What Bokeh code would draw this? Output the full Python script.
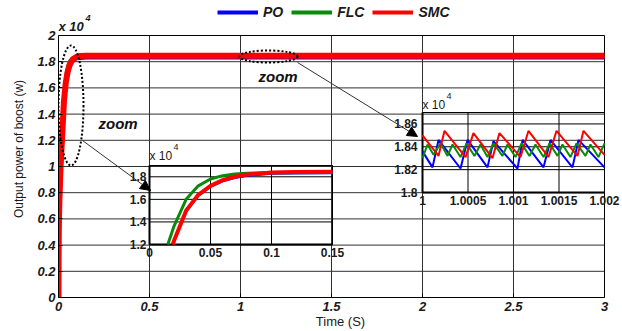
from bokeh.plotting import figure
from bokeh.models import (Range1d, FixedTicker, PrintfTickFormatter, Legend, LegendItem,
                          Arrow, NormalHead, Label, LabelSet, ColumnDataSource)
from bokeh.embed import file_html
from bokeh.resources import INLINE
from bokeh.core.properties import value

FONT = "Liberation Sans"

# ---------------- data (values in x 10^4 W) ----------------
t_po = [0, 0.005, 0.01, 0.015, 0.02, 0.03, 0.04, 0.05, 0.06, 0.07, 0.08, 0.1, 0.12, 0.15, 3.0]
po = [0, 0.55, 0.85, 1.05, 1.22, 1.49, 1.63, 1.71, 1.76, 1.79, 1.81, 1.826, 1.829, 1.832, 1.832]

t_flc = [0, 0.003, 0.006, 0.01, 0.015, 0.02, 0.03, 0.04, 0.05, 0.06, 0.07, 0.08, 0.1, 0.15, 3.0]
flc = [0, 0.85, 0.95, 1.05, 1.2, 1.36, 1.60, 1.72, 1.78, 1.81, 1.825, 1.832, 1.836, 1.837, 1.837]

t_smc = [0, 0.001, 0.005, 0.01, 0.015, 0.019, 0.02, 0.03, 0.04, 0.05, 0.06, 0.07, 0.08, 0.1, 0.12, 0.15, 3.0]
smc = [0, 0.5, 0.75, 0.95, 1.1, 1.2, 1.23, 1.50, 1.64, 1.72, 1.77, 1.80, 1.82, 1.838, 1.843, 1.845, 1.845]

# ripple (zoom 1 .. 1.002 s)
t_rip_smc = [1.0, 1.000176, 1.000242, 1.000473, 1.000560, 1.000769, 1.000846, 1.001077,
             1.001165, 1.001385, 1.001473, 1.001703, 1.001769, 1.002]
rip_smc = [1.850, 1.832, 1.854, 1.831, 1.852, 1.830, 1.852, 1.831, 1.854, 1.831, 1.854,
           1.832, 1.854, 1.833]

t_rip_po = [1.0, 1.00011, 1.000176, 1.000418, 1.000495, 1.000714, 1.00078, 1.001044, 1.0011,
            1.00133, 1.001407, 1.001648, 1.001714, 1.002]
rip_po = [1.836, 1.822, 1.846, 1.821, 1.846, 1.822, 1.845, 1.821, 1.846, 1.822, 1.846,
          1.822, 1.846, 1.822]

t_rip_flc = [1.0, 1.000055, 1.000121, 1.000198, 1.000275, 1.00033, 1.000418, 1.000484,
             1.000571, 1.000637, 1.000714, 1.00078, 1.000879, 1.000934, 1.001022, 1.001088,
             1.001176, 1.001242, 1.00133, 1.001396, 1.001484, 1.001538, 1.001626, 1.001692,
             1.001791, 1.001846, 1.001934, 1.002]
rip_flc = [1.830, 1.842, 1.833, 1.843, 1.832, 1.842, 1.831, 1.843, 1.832, 1.842, 1.831,
           1.843, 1.832, 1.842, 1.831, 1.843, 1.832, 1.842, 1.831, 1.843, 1.832, 1.842,
           1.831, 1.843, 1.832, 1.842, 1.831, 1.843]

series_names = ["PO", "FLC", "SMC"]
x_ticks = [0, 0.5, 1, 1.5, 2, 2.5, 3]
y_ticks = [0, 0.2, 0.4, 0.6, 0.8, 1, 1.2, 1.4, 1.6, 1.8, 2]
x_lim = [0, 3]
y_lim = [0, 2]

z1_x_ticks = [0, 0.05, 0.1, 0.15]
z1_x_labels = ["0", "0.05", "0.1", "0.15"]
z1_y_ticks = [1.2, 1.4, 1.6, 1.8]
z1_y_labels = ["1.2", "1.4", "1.6", "1.8"]
z1_xlim = [0, 0.15]
z1_ylim = [1.2, 1.9]

z2_x_ticks = [1, 1.0005, 1.001, 1.0015, 1.002]
z2_x_labels = ["1", "1.0005", "1.001", "1.0015", "1.002"]
z2_y_ticks = [1.8, 1.82, 1.84, 1.86]
z2_y_labels = ["1.8", "1.82", "1.84", "1.86"]
z2_xlim = [1, 1.002]
z2_ylim = [1.8, 1.87]

# ---------------- layout constants (pixels, whole window) ----------------
W, H = 622, 331
FL, FR, FT, FB = 58, 604, 35, 297     # axes box of the main plot
CANVAS_R = 622                        # drawing frame reaches the right edge

BLUE, GREEN, RED = "#0000ff", "#0a8a0a", "#ff0000"
GRID = "#303030"
TXT = "#1a1a1a"


def mx(px):
    return (px - FL) / (FR - FL) * (x_lim[1] - x_lim[0]) + x_lim[0]


def my(py):
    return (FB - py) / (FB - FT) * (y_lim[1] - y_lim[0]) + y_lim[0]


def extra(d0, d1, p0, p1, f0, f1):
    k = (d1 - d0) / (p1 - p0)
    return Range1d(start=d0 + (f0 - p0) * k, end=d0 + (f1 - p0) * k)


# frame spans x 58..622 and y 0..297, so texts above the axes box stay inside it
p = figure(width=W, height=H, x_range=Range1d(x_lim[0], mx(CANVAS_R)),
           y_range=Range1d(y_lim[0], my(0)),
           output_backend="svg", toolbar_location=None,
           min_border_left=FL, min_border_right=W - CANVAS_R, min_border_top=0,
           min_border_bottom=H - FB)
p.background_fill_color = "white"
p.border_fill_color = "white"
p.outline_line_color = None
p.grid.visible = False

# inset ranges: inset 1 box px x 149..332, y 244..165 ; inset 2 box px x 422..604, y 192..112
p.extra_x_ranges = {"z1": extra(z1_xlim[0], z1_xlim[1], 149, 332, FL, CANVAS_R),
                    "z2": extra(z2_xlim[0], z2_xlim[1], 422, 604, FL, CANVAS_R)}
p.extra_y_ranges = {"z1": extra(z1_ylim[0], z1_ylim[1], 244, 165, FB, 0),
                    "z2": extra(z2_ylim[0], z2_ylim[1], 192, 112, FB, 0),
                    "off": Range1d(100, 101)}

for ax in (p.xaxis[0], p.yaxis[0]):
    ax.major_label_text_font = FONT
    ax.major_label_text_font_style = "bold italic"
    ax.major_label_text_font_size = "13px"
    ax.major_label_text_color = TXT
    ax.axis_label_text_font = FONT
    ax.axis_label_text_font_style = "normal"
    ax.axis_label_text_color = TXT
    ax.major_tick_in = 4
    ax.major_tick_out = 0
    ax.minor_tick_line_color = None
    ax.axis_line_color = "black"
    ax.formatter = PrintfTickFormatter(format="%g")
p.xaxis.bounds = tuple(x_lim)
p.yaxis.bounds = tuple(y_lim)
p.xaxis.ticker = FixedTicker(ticks=x_ticks)
p.yaxis.ticker = FixedTicker(ticks=y_ticks)
p.xaxis.axis_label = "Time (S)"
p.xaxis.axis_label_text_font_size = "13px"
p.xaxis.major_label_standoff = 4
p.xaxis.axis_label_standoff = 0
p.yaxis.axis_label = "Output power of boost (w)"
p.yaxis.axis_label_text_font_size = "12px"
p.yaxis.major_label_standoff = 3
p.yaxis.axis_label_standoff = 8

# main grid and box (grid lines at the ticks, box at the limits)
gx = [t for t in x_ticks if x_lim[0] < t < x_lim[1]]
gy = [t for t in y_ticks if y_lim[0] < t < y_lim[1]]
p.segment(x0=gx, x1=gx, y0=[y_lim[0]] * len(gx), y1=[y_lim[1]] * len(gx),
          line_color=GRID, line_width=1)
p.segment(x0=[x_lim[0]] * len(gy), x1=[x_lim[1]] * len(gy), y0=gy, y1=gy,
          line_color=GRID, line_width=1)
p.segment(x0=[x_lim[0], x_lim[1]], x1=[x_lim[1], x_lim[1]], y0=[y_lim[1], y_lim[0]],
          y1=[y_lim[1], y_lim[1]], line_color="black", line_width=1)

# main curves
p.line(t_po, po, line_color=BLUE, line_width=4)
p.line(t_flc, flc, line_color=GREEN, line_width=2)
p.line(t_smc, smc, line_color=RED, line_width=6)


def inset_frame(name, xt, yt, xlim, ylim):
    p.segment(x0=[xlim[0]] * len(yt), x1=[xlim[1]] * len(yt), y0=yt, y1=yt,
              x_range_name=name, y_range_name=name, line_color="black", line_width=1)
    p.segment(x0=xt, x1=xt, y0=[ylim[0]] * len(xt), y1=[ylim[1]] * len(xt),
              x_range_name=name, y_range_name=name, line_color="black", line_width=1)
    p.segment(x0=[xlim[0], xlim[0]], x1=[xlim[1], xlim[1]], y0=[ylim[0], ylim[1]],
              y1=[ylim[0], ylim[1]], x_range_name=name, y_range_name=name,
              line_color="black", line_width=[2, 1])
    p.segment(x0=[xlim[0], xlim[1]], x1=[xlim[0], xlim[1]], y0=[ylim[0], ylim[0]],
              y1=[ylim[1], ylim[1]], x_range_name=name, y_range_name=name,
              line_color="black", line_width=[2, 1])


def clip(ts, vs, xlim, ylim):
    pts = [(a, b) for a, b in zip(ts, vs) if xlim[0] <= a <= xlim[1] and b >= ylim[0]]
    return [a for a, _ in pts], [b for _, b in pts]


# inset 1 (start-up)
inset_frame("z1", z1_x_ticks, z1_y_ticks, z1_xlim, z1_ylim)
for ts, vs, col, lw in ((t_po, po, BLUE, 2), (t_flc, flc, GREEN, 3), (t_smc, smc, RED, 4)):
    xs, ys = clip(ts, vs, z1_xlim, z1_ylim)
    p.line(xs, ys, x_range_name="z1", y_range_name="z1", line_color=col, line_width=lw)

# inset 2 (ripple)
inset_frame("z2", z2_x_ticks, z2_y_ticks, z2_xlim, z2_ylim)
p.line(t_rip_po, rip_po, x_range_name="z2", y_range_name="z2", line_color=BLUE, line_width=2)
p.line(t_rip_flc, rip_flc, x_range_name="z2", y_range_name="z2", line_color=GREEN, line_width=2)
p.line(t_rip_smc, rip_smc, x_range_name="z2", y_range_name="z2", line_color=RED, line_width=2)


def tick_labels(name, xt, xl, yt, yl, xlim, ylim, xoff):
    sx = ColumnDataSource(dict(x=xt, y=[ylim[0]] * len(xt), text=xl))
    p.add_layout(LabelSet(x="x", y="y", text="text", source=sx, x_range_name=name,
                          y_range_name=name, text_align="center", text_baseline="top",
                          y_offset=-3, text_font=value(FONT), text_font_size="12px",
                          text_font_style="bold", text_color=TXT))
    sy = ColumnDataSource(dict(x=[xlim[0]] * len(yt), y=yt, text=yl))
    p.add_layout(LabelSet(x="x", y="y", text="text", source=sy, x_range_name=name,
                          y_range_name=name, text_align="right", text_baseline="middle",
                          x_offset=xoff, text_font=value(FONT), text_font_size="12px",
                          text_font_style="bold", text_color=TXT))


tick_labels("z1", z1_x_ticks, z1_x_labels, z1_y_ticks, z1_y_labels, z1_xlim, z1_ylim, -3)
tick_labels("z2", z2_x_ticks, z2_x_labels, z2_y_ticks, z2_y_labels, z2_xlim, z2_ylim, -5)


def exponent(px, py, style, size, gap):
    p.add_layout(Label(x=mx(px), y=my(py), text="x 10", text_baseline="middle",
                       text_font=FONT, text_font_style=style, text_font_size=size,
                       text_color=TXT))
    p.add_layout(Label(x=mx(px + gap), y=my(py - 9), text="4", text_baseline="middle",
                       text_font=FONT, text_font_style=style, text_font_size="9px",
                       text_color=TXT))


exponent(58, 26, "bold italic", "13px", 27)
exponent(149, 155, "normal", "12px", 24)
exponent(422, 104, "normal", "12px", 24)

# dotted zoom ellipses, labels and arrows
p.ellipse(x=[mx(70.5), mx(268)], y=[my(105), my(56)],
          width=[mx(25) - mx(0), mx(58) - mx(0)],
          height=[my(0) - my(120), my(0) - my(12)],
          fill_alpha=0, line_color="black", line_dash="2 2", line_width=2)

for x, y in ((mx(98), my(123)), (mx(258), my(76))):
    p.add_layout(Label(x=x, y=y, text="zoom", text_baseline="middle", text_font=FONT,
                       text_font_style="bold italic", text_font_size="15px",
                       text_color="#111111"))

for (xs, ys, xe, ye) in ((82, 140, 150, 190), (297, 62, 417, 136)):
    p.add_layout(Arrow(end=NormalHead(size=10, fill_color="black", line_color="black"),
                       x_start=mx(xs), y_start=my(ys), x_end=mx(xe), y_end=my(ye),
                       line_color="#333333", line_width=1))

# legend: proxy renderers of the three series drawn on an off-screen range
leg_r = [p.line(ts, vs, y_range_name="off", line_color=c, line_width=4)
         for ts, vs, c in ((t_po, po, BLUE), (t_flc, flc, GREEN), (t_smc, smc, RED))]
legend = Legend(items=[LegendItem(label=n, renderers=[r]) for n, r in zip(series_names, leg_r)],
                orientation="horizontal", location=(217 - FL, FB - 4 - 16), glyph_width=41,
                glyph_height=16, label_standoff=5, spacing=8, padding=0, margin=0,
                label_text_font=FONT, label_text_font_style="bold italic",
                label_text_font_size="14px", label_text_color=TXT,
                border_line_alpha=0, background_fill_alpha=0)
p.add_layout(legend, "center")

open("out.html", "w").write(file_html(p, INLINE))
